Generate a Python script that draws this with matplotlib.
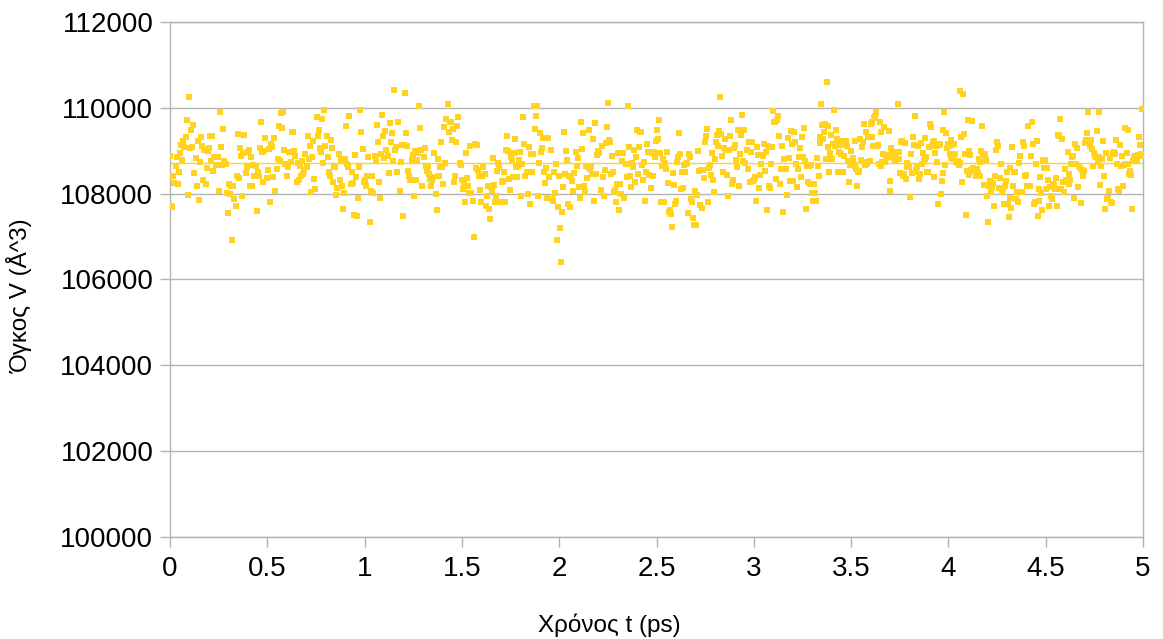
import matplotlib.pyplot as plt
import numpy as np

# volume samples, in time order (A^3), one list per stretch of time
v_a = [
    108884, 107721, 107682, 108419, 108248, 108651, 108845, 108225, 108512, 108946,
    109132, 108790, 109232, 109077, 109310, 109720, 107977, 110263, 109054, 109488,
    109077, 109596, 108481, 108822, 108170, 109232, 107860, 108744, 109310, 109100,
    108326, 109023, 108225, 108589, 109000, 109054, 109348, 108767, 109348, 108535,
    108845, 108667, 108845, 108845, 108070, 109907, 109077, 108667, 109503, 108767,
    108690, 108016, 107550, 108225, 107992, 108186, 106915, 108186, 107876, 107721,
    108403, 109387, 108357, 109054, 108868, 107938, 108946, 109364, 108481, 108612,
    108977, 109023, 108186, 108845, 108186, 108667, 108419, 108651, 107605, 108496,
    108403, 109054, 109658, 108977, 108264, 109000, 109286, 108357, 108558, 109038,
    107814, 109155, 109077, 108380, 109286, 108070, 108574, 108806, 109581, 108767,
    109876, 109519, 109891, 109023, 108690, 108419, 108612, 108961, 108961, 108744,
    109442, 109442, 109000, 108884, 108264, 108713, 108326, 108651, 108403, 108767,
    108457, 108558, 108922, 108612, 109348, 108806, 109100, 108047, 108845, 109232,
    108341, 108109, 109775, 109348, 109488, 109054, 108977, 109736, 108713, 109945,
    109116, 109348,
]
v_b = [
    108845, 108496, 108419, 109256, 109054, 108279, 108651, 108612, 107969, 108124,
    108922, 108326, 108790, 108186, 107643, 108016, 108806, 109566, 108690, 108612,
    109798, 108225, 108512, 108248, 107504, 108899, 108380, 107473, 107891, 108612,
    109953, 109442, 109038, 108279, 108326, 108186, 108419, 108845, 108419, 107333,
    108070, 108419, 108016, 108884, 108767, 109597, 109209, 108279, 107891, 108922,
    109829, 109333, 108822, 109465, 109023, 108884, 108481, 109643, 109209, 109411,
    108767, 110418, 109023, 109077, 108512, 109659, 108070, 108744, 109132, 107488,
    109132, 110341, 109411, 109116, 108535, 108403, 108326, 108790, 108899, 107938,
    109000, 108326, 108790, 108946, 110046, 109519, 109023, 108186, 108845, 109054,
    108651, 108535, 108651, 108457, 108341, 108170, 108326, 108380, 108946, 107992,
    107628, 108806, 108419, 108612, 109194, 108612, 108225, 109542, 108713, 109736,
    110085, 109442, 109659, 109659, 109256, 109504, 108279, 108403, 109209, 109581,
    109775, 108713, 108667, 108326, 108109, 108225, 107814, 108946, 108357, 108170,
    108016, 109100, 108016, 107837, 106985, 109155, 108589, 109132, 108558, 108419,
    108093, 107798, 108419, 108612, 108457, 107706, 107953, 108170, 107643, 107411,
]
v_c = [
    108147, 108070, 108822, 108201, 107798, 107938, 108535, 108713, 108612, 107798,
    108279, 108302, 108512, 107798, 109023, 109333, 109000, 108341, 108093, 108845,
    108790, 108380, 108946, 109271, 108612, 108380, 108636, 108790, 108961, 107938,
    108690, 109775, 109155, 108419, 108496, 107992, 109077, 107760, 108922, 108496,
    108922, 110031, 109504, 109798, 110046, 107938, 108713, 109411, 108961, 109054,
    109286, 108512, 108248, 108589, 107891, 109286, 108380, 109023, 107876, 107837,
    108496, 108016, 108690, 106930, 107682, 108403, 107194, 106419, 107582, 108147,
    109426, 108457, 109000, 108790, 107760, 108403, 107682, 108380, 108302, 108070,
    108481, 108961, 108636, 108822, 108147, 107891, 109659, 109038, 109411, 108186,
    108031, 108636, 108357, 108612, 109488, 108574, 108651, 108457, 109271, 107837,
    109643, 108457, 108899, 109000, 108946, 108093, 109116, 108380, 107953, 108558,
    109178, 109542, 110108, 109256, 109209, 108457, 108868, 108496, 108047, 108093,
    107798, 108225, 108946, 107628, 108225, 107992, 108767, 108946, 107891, 108690,
    108380, 110031, 109077, 108419, 108147, 108713, 108612, 109023, 108279, 108845,
    109488, 108457, 109077, 109442, 109442, 108667, 108326, 108744, 107837, 108496,
    109155, 108977, 108434, 108124, 108946,
]
v_d = [
    108419, 108977, 108845, 109232, 109488, 109271, 109720, 108946, 107814, 108651,
    108806, 107814, 108713, 108574, 108961, 108248, 107566, 107628, 107527, 107217,
    108481, 108201, 107760, 107837, 108744, 108845, 109411, 108922, 108109, 108496,
    108124, 108667, 108512, 108690, 108713, 107550, 108922, 108845, 107876, 107814,
    107427, 107271, 108070, 107271, 107969, 109000, 108535, 107737, 108558, 107659,
    108558, 108357, 109194, 109333, 109504, 107798, 108589, 108667, 108434, 108946,
    108326, 108047, 108806, 109194, 109364, 109100, 109465, 110263, 109387, 108884,
    108512, 109054, 109271, 109023, 108434, 107938, 109023, 109348, 109720, 108225,
    108326, 109054, 109132, 108790, 108612, 109488, 108170, 108922, 109364, 109829,
    108767, 109488, 108713, 109023, 108574, 109209, 108279, 108977, 109209, 108302,
    108326, 108380, 107837, 109077, 108899, 108124, 108434, 108690, 108899, 108868,
    109155, 108535, 108977, 107628, 109116, 108170, 108124, 108690, 109077, 109930,
    109659, 109659, 108341, 109720, 109798, 109333, 108225, 108574, 109116, 107566,
    108806, 108574, 108574, 107969, 109286, 108822, 108302, 109465, 109155, 108302,
    109442, 109209, 108690, 108147, 108574, 108845, 109054, 108380, 109310, 108845,
    109519, 108767, 107643, 108636, 108264, 108651, 108225, 108667, 108016, 107837,
]
v_e = [
    108225, 108016, 107837, 108822, 108651, 108419, 109310, 109178, 110085, 109597,
    109271, 109426, 109620, 108806, 110604, 109077, 109566, 108512, 108946, 109364,
    108806, 109155, 109953, 109116, 109488, 109271, 109194, 108496, 108977, 109132,
    108922, 109232, 108512, 108868, 109155, 109209, 109232, 109100, 108767, 108264,
    108667, 109000, 108767, 108822, 108690, 109232, 108651, 108574, 108170, 108496,
    108535, 109271, 108790, 109077, 109194, 109620, 108744, 108667, 109426, 108690,
    109310, 109310, 108767, 109620, 109659, 109310, 109116, 109752, 109798, 109891,
    109116, 109132, 108690, 109674, 109442, 108636, 108729, 108922, 109542, 108744,
    108822, 108899, 108845, 109465, 108070, 108302, 109054, 108961, 108899, 108806,
    108946, 108790, 108977, 110085, 108806, 108961, 108481, 109209, 109232, 108403,
    108457, 109178, 108341, 108713, 108612, 108667, 108612, 107915, 108922, 108481,
    109310, 109132, 109814, 108496, 108558, 108612, 109100, 108341, 108457, 109178,
    108690, 108946, 108767, 108806, 109286, 108845, 108496, 108496, 109077, 109620,
    109542, 109100, 109209, 108380, 109232, 108946, 109116, 108744, 107760, 109132,
    109155, 107992, 108302, 108481, 109488, 109891, 108667, 109411, 109054, 109155,
    109116, 108922, 108822, 109256, 109132, 108806, 109155, 108922, 108744, 108713,
    108767, 108667, 108713, 110395, 109310, 108279, 110317, 109387, 108922, 107504,
    108535, 109720, 108434, 109000, 108899, 108558, 109697, 108589, 108574, 108535,
    108419,
]
v_f = [
    108574, 108481, 108806, 108419, 108744, 109000, 109566, 108899, 108201, 108922,
    108790, 107938, 107333, 108186, 108302, 108047, 108147, 108248, 107721, 108403,
    109023, 109209, 109100, 108124, 108357, 108690, 108031, 108109, 107760, 108186,
    108302, 108496, 107760, 107450, 108589, 107891, 107659, 109077, 108170, 108496,
    108496, 107876, 108047, 107798, 108713, 108868, 108047, 108031, 109209, 109100,
    108403, 108434, 108186, 109566, 108186, 108186, 108884, 109674, 109155, 107760,
    107798, 108690, 109232, 107488, 107837, 108109, 108380, 108016, 107628, 108790,
    108589, 108790, 108109, 108589, 108326, 107721, 108147, 107938, 107876, 108225,
    108201, 108109, 108357, 107721, 109364, 109333, 109736, 108109, 109271, 108279,
    108047, 108574, 108326, 108326, 108961, 108457, 108225, 108326, 108690, 108845,
    108868, 107891, 109155, 108690, 109054, 108147, 108636, 108589, 107783, 108558,
    108419, 108535, 109178, 109256, 109411, 109907, 109256, 109100, 109256, 109038,
    108651, 108946, 108884, 108845, 109465, 108744, 109907, 108845, 108201, 108651,
    108806, 109232, 108403, 107643, 108946, 107876, 107891, 108070, 108822, 107814,
    107783, 108946, 108961, 108922, 109256, 108690, 108109, 108070, 109132, 108651,
    108884, 108170, 108667, 109519, 108690, 108946, 109488, 108690, 108457, 108535,
    108434, 107643, 108767, 108845, 108884, 108767, 108790, 108899, 109310, 109132,
    108922, 109984, 108884,
]
# time (ps) at which each stretch starts/ends
seg_t = [0.0, 0.81, 1.65, 2.48, 3.31, 4.145, 5.0]
MEAN_V = 108715   # level of the thin horizontal line

y_ticks = [100000, 102000, 104000, 106000, 108000, 110000, 112000]
x_ticks = [0, 0.5, 1, 1.5, 2, 2.5, 3, 3.5, 4, 4.5, 5]
x_labels = ['0', '0.5', '1', '1.5', '2', '2.5', '3', '3.5', '4', '4.5', '5']

segs = [v_a, v_b, v_c, v_d, v_e, v_f]
t, V = [], []
for i, vs in enumerate(segs):
    last = i == len(segs) - 1
    t.extend(np.linspace(seg_t[i], seg_t[i + 1], len(vs), endpoint=last))
    V.extend(vs)

plt.rcParams['font.family'] = ['Liberation Sans', 'DejaVu Sans']
yellow = '#ffd320'
gray = '#b3b3b3'

fig = plt.figure(figsize=(11.63, 6.39), dpi=100)
ax = fig.add_axes([0.1462, 0.1596, 0.8366, 0.806])

ax.plot([seg_t[0], seg_t[-1]], [MEAN_V, MEAN_V], color=yellow, lw=1.0, zorder=2)
ax.scatter(t, V, marker='s', s=15, color=yellow, linewidths=0, zorder=3)

ax.set_xlim(0, 5)
ax.set_ylim(100000, 112000)
ax.set_xticks(x_ticks)
ax.set_xticklabels(x_labels)
ax.set_yticks(y_ticks)
ax.yaxis.grid(True, color=gray, lw=1.0)
ax.set_axisbelow(True)
for s in ax.spines.values():
    s.set_color(gray)
    s.set_linewidth(1.0)
ax.tick_params(axis='both', colors=gray, labelcolor='black', labelsize=20,
               length=7, width=1.0)
ax.tick_params(axis='x', pad=7)
ax.tick_params(axis='y', pad=5)

ax.set_xlabel('Χρόνος t (ps)', fontsize=17.5)
ax.set_ylabel('Όγκος V (Å^3)', fontsize=17.5)
ax.xaxis.set_label_coords(0.452, -0.148)
ax.yaxis.set_label_coords(-0.141, 0.468)

fig.savefig('out.png', dpi=100)
